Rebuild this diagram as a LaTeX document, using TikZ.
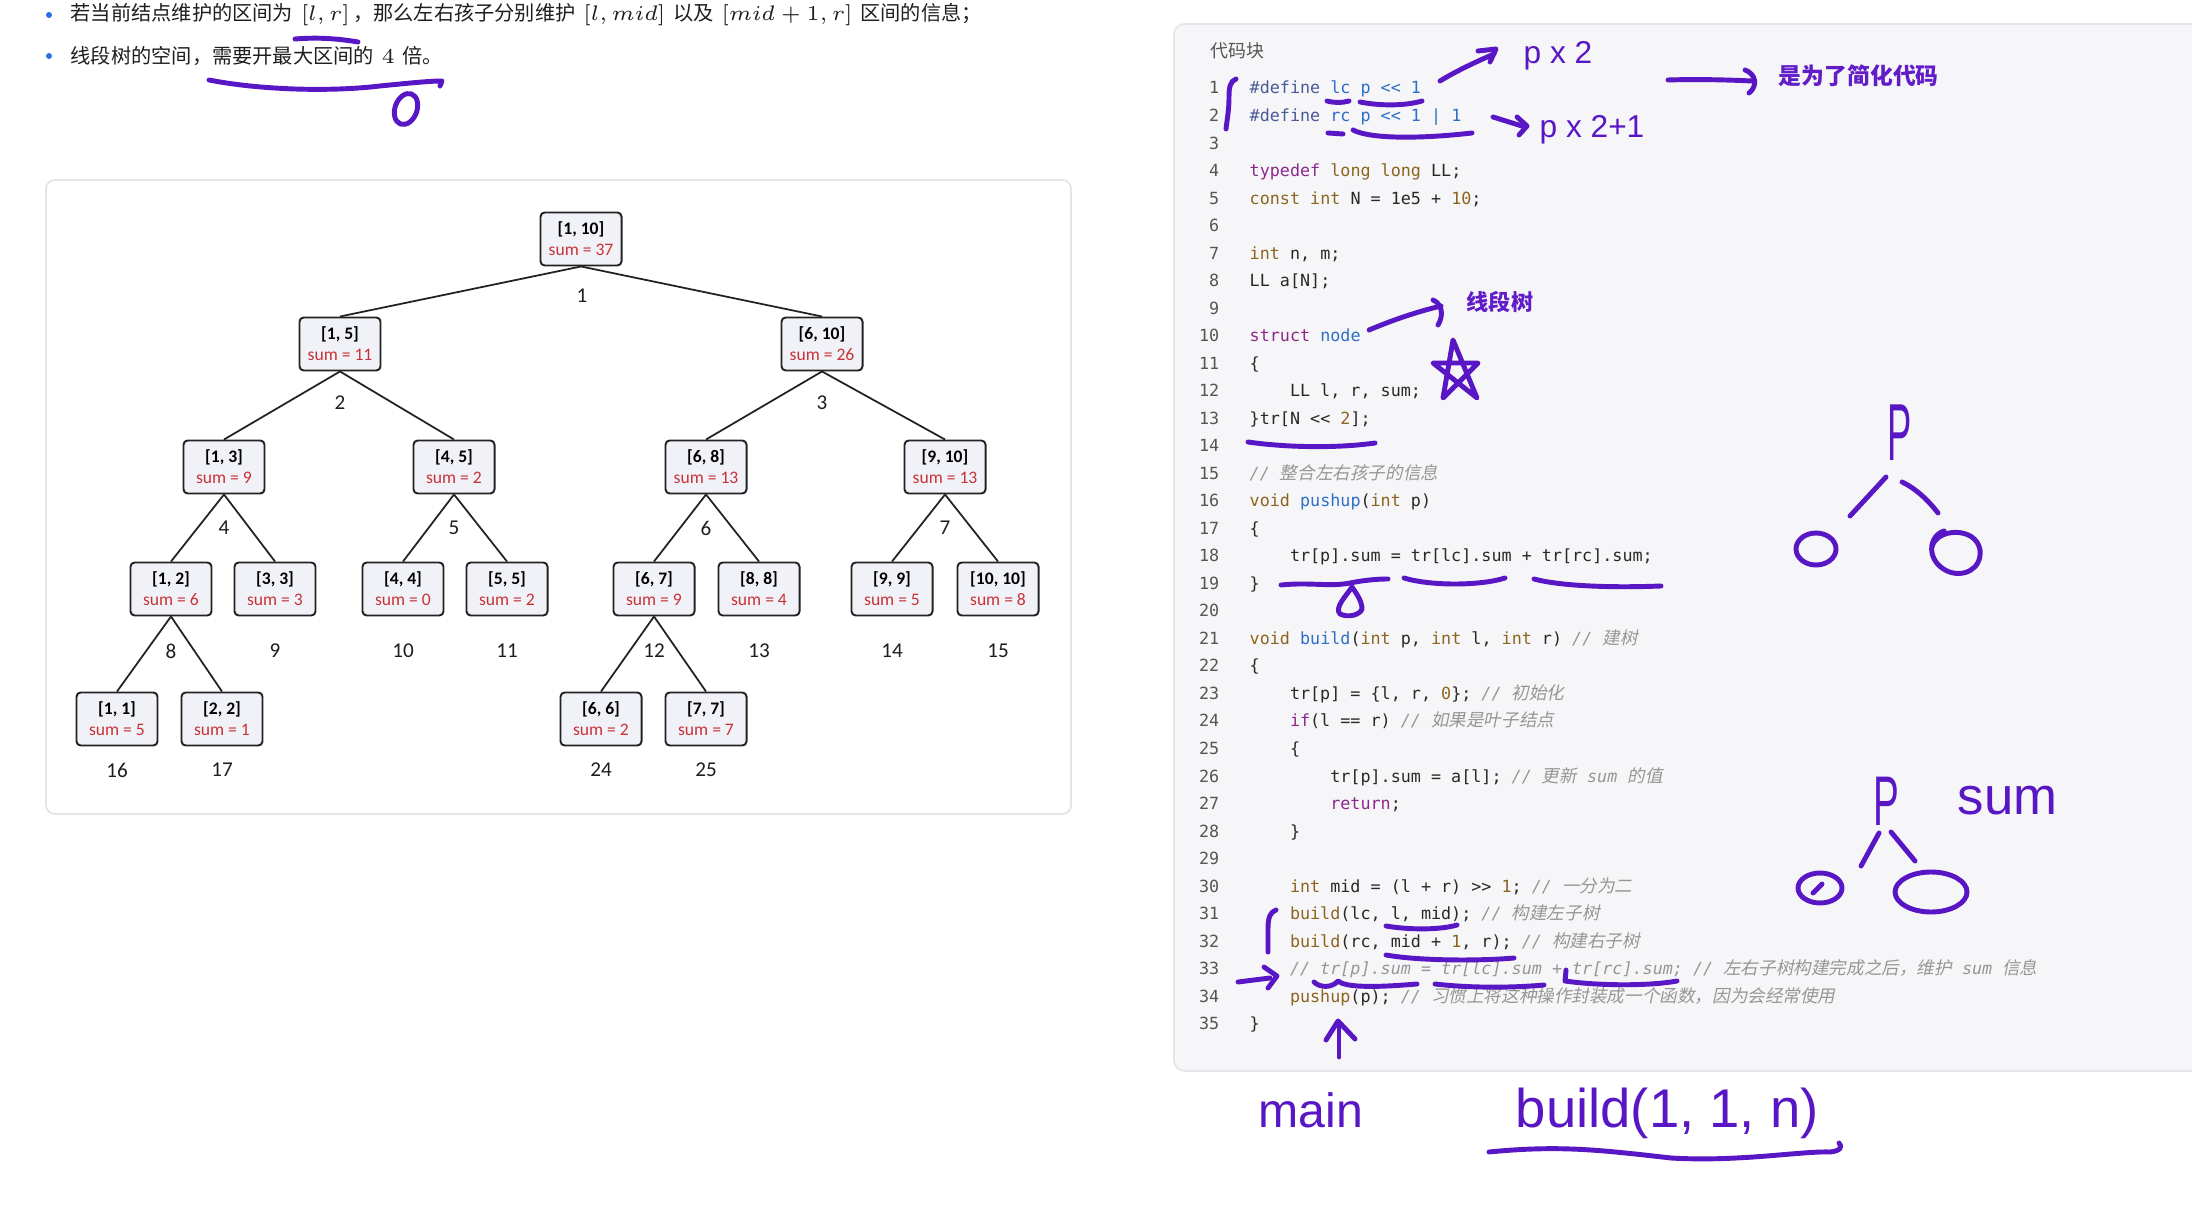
\documentclass[tikz,border=0pt]{standalone}
\usepackage{fontspec}
\usepackage{amsmath}
\setmonofont{DejaVu Sans Mono}
\newfontfamily\cjk{Noto Sans CJK SC}
\newfontfamily\cjkit[FakeSlant=0.2]{Noto Sans CJK SC}
\newfontfamily\treefont{Carlito}
\newfontfamily\handfont{Liberation Sans}
\definecolor{pen}{RGB}{88,22,196}
\definecolor{pentext}{RGB}{98,28,200}
\definecolor{cpur}{RGB}{140,40,140}
\definecolor{cbro}{RGB}{140,100,30}
\definecolor{cblu}{RGB}{45,110,200}
\definecolor{cdef}{RGB}{75,90,150}
\definecolor{ctxt}{RGB}{40,40,40}
\definecolor{ccom}{RGB}{150,150,150}
\definecolor{lnumc}{RGB}{85,85,85}
\definecolor{codebg}{RGB}{246,246,248}
\definecolor{codebd}{RGB}{230,230,232}
\definecolor{panelbd}{RGB}{228,228,228}
\definecolor{tfill}{RGB}{240,242,248}
\definecolor{tbd}{RGB}{34,34,34}
\definecolor{tred}{RGB}{200,50,55}
\definecolor{bulc}{RGB}{40,110,230}
\definecolor{toptxt}{RGB}{30,30,30}
\newcommand\tokP[1]{\textcolor{cpur}{#1}}
\newcommand\tokB[1]{\textcolor{cbro}{#1}}
\newcommand\tokL[1]{\textcolor{cblu}{#1}}
\newcommand\cmt[1]{{\color{ccom}\itshape #1}}
\newcommand\zh[1]{{\cjkit\fontsize{5}{6}\selectfont #1}}
\newcommand\codeln[3]{\node[codetxt] (c#1) at ({1249+10.07*#2},{94+27.52*(#1-1)}) {#3};}
\newcommand\tn[5]{\node[tnode] (#1) at (#2,#3) {{\bfseries #4}\\\textcolor{tred}{sum = #5}};}
\newcommand\ti[4]{\node[tidx] (#1) at (#2,#3) {#4};}
\tikzset{
  codetxt/.style={anchor=base west, inner sep=0pt, text=ctxt, font=\ttfamily\fontsize{4.76}{6}\selectfont\frenchspacing},
  lnum/.style={anchor=base east, inner sep=0pt, text=lnumc, font=\ttfamily\fontsize{4.76}{6}\selectfont},
  tnode/.style={draw=tbd, line width=0.55pt, fill=tfill, rounded corners=1.2pt, minimum width=0.81cm, minimum height=0.53cm, inner sep=0pt, align=center, font=\treefont\fontsize{5}{6}\selectfont},
  tidx/.style={inner sep=0pt, text=toptxt, font=\treefont\fontsize{6}{7}\selectfont},
  tedge/.style={draw=tbd, line width=0.5pt},
  toptext/.style={anchor=west, inner sep=0pt, text=toptxt, font=\cjk\fontsize{5.75}{7}\selectfont},
  bulletdot/.style={circle, fill=bulc, inner sep=0pt, minimum size=0.06cm},
  pen/.style={draw=pen, line width=1.4pt, line cap=round, line join=round},
  hand/.style={inner sep=0pt, text=pen, font=\handfont},
  pentag/.style={inner sep=0pt, text=pentext, font=\cjk\bfseries},
}
\begin{document}
\begin{tikzpicture}[x=0.01cm, y=-0.01cm]
\useasboundingbox (0,0) rectangle (2192,1210);
\clip (0,0) rectangle (2192,1210);
\fill[white] (0,0) rectangle (2192,1210);

% ---------- top bullet text ----------
\node[bulletdot] (b1) at (49,15) {};
\node[bulletdot] (b2) at (49,56) {};
\node[toptext] (t1) at (70,15) {若当前结点维护的区间为 \,$[l,r]$\,，那么左右孩子分别维护 \,$[l,mid]$\, 以及 \,$[mid+1,r]$\, 区间的信息；};
\node[toptext] (t2) at (70,56) {线段树的空间，需要开最大区间的 \,$4$\, 倍。};

% annotations top
\draw[pen] (295,39) .. controls (320,37) and (340,39) .. (358,42);
\draw[pen] (209,80) .. controls (260,90) and (330,92) .. (380,86) .. controls (410,83) and (430,81) .. (442,81) -- (440,86);
\draw[pen, rotate around={-20:(406,109)}] (406,109) ellipse [x radius=11, y radius=16];

% ---------- tree panel ----------
\draw[draw=panelbd, fill=white, line width=0.5pt, rounded corners=2.5pt] (46,180) rectangle (1071,814);

\tn{n1}{581}{239}{[1, 10]}{37}
\tn{n2}{340}{344}{[1, 5]}{11}
\tn{n3}{822}{344}{[6, 10]}{26}
\tn{n4}{224}{467}{[1, 3]}{9}
\tn{n5}{454}{467}{[4, 5]}{2}
\tn{n6}{706}{467}{[6, 8]}{13}
\tn{n7}{945}{467}{[9, 10]}{13}
\tn{n8}{171}{589}{[1, 2]}{6}
\tn{n9}{275}{589}{[3, 3]}{3}
\tn{n10}{403}{589}{[4, 4]}{0}
\tn{n11}{507}{589}{[5, 5]}{2}
\tn{n12}{654}{589}{[6, 7]}{9}
\tn{n13}{759}{589}{[8, 8]}{4}
\tn{n14}{892}{589}{[9, 9]}{5}
\tn{n15}{998}{589}{[10, 10]}{8}
\tn{n16}{117}{719}{[1, 1]}{5}
\tn{n17}{222}{719}{[2, 2]}{1}
\tn{n24}{601}{719}{[6, 6]}{2}
\tn{n25}{706}{719}{[7, 7]}{7}

\foreach \p/\c in {n1/n2,n1/n3,n2/n4,n2/n5,n3/n6,n3/n7,n4/n8,n4/n9,n5/n10,n5/n11,n6/n12,n6/n13,n7/n14,n7/n15,n8/n16,n8/n17,n12/n24,n12/n25}
  \draw[tedge] (\p.south) -- (\c.north);

\ti{i1}{582}{296}{1}
\ti{i2}{340}{403}{2}
\ti{i3}{822}{403}{3}
\ti{i4}{224}{528}{4}
\ti{i5}{454}{528}{5}
\ti{i6}{706}{528}{6}
\ti{i7}{945}{528}{7}
\ti{i8}{171}{651}{8}
\ti{i9}{275}{651}{9}
\ti{i10}{403}{651}{10}
\ti{i11}{507}{651}{11}
\ti{i12}{654}{651}{12}
\ti{i13}{759}{651}{13}
\ti{i14}{892}{651}{14}
\ti{i15}{998}{651}{15}
\ti{i16}{117}{770}{16}
\ti{i17}{222}{770}{17}
\ti{i24}{601}{770}{24}
\ti{i25}{706}{770}{25}

% ---------- code panel ----------
\draw[fill=codebg, draw=codebd, line width=0.5pt, rounded corners=3pt] (1174,24) rectangle (2260,1071);
\node[anchor=west, inner sep=0pt, text=lnumc, font=\cjk\fontsize{5.1}{6}\selectfont] (title) at (1210,51) {代码块};

\foreach \k in {1,...,35}
  \node[lnum] (ln\k) at (1220,{94+27.52*(\k-1)}) {\k};

\codeln{1}{0}{\textcolor{cdef}{\#define} \textcolor{cblu}{lc p << 1}}
\codeln{2}{0}{\textcolor{cdef}{\#define} \textcolor{cblu}{rc p << 1 | 1}}
\codeln{4}{0}{\tokP{typedef} \tokB{long long} LL;}
\codeln{5}{0}{\tokB{const int} N = 1e5 + \tokB{10};}
\codeln{7}{0}{\tokB{int} n, m;}
\codeln{8}{0}{LL a[N];}
\codeln{10}{0}{\tokP{struct} \tokL{node}}
\codeln{11}{0}{\{}
\codeln{12}{4}{LL l, r, sum;}
\codeln{13}{0}{\}tr[N << \tokB{2}];}
\codeln{15}{0}{\cmt{// \zh{整合左右孩子的信息}}}
\codeln{16}{0}{\tokB{void} \tokL{pushup}(\tokB{int} p)}
\codeln{17}{0}{\{}
\codeln{18}{4}{tr[p].sum = tr[lc].sum + tr[rc].sum;}
\codeln{19}{0}{\}}
\codeln{21}{0}{\tokB{void} \tokL{build}(\tokB{int} p, \tokB{int} l, \tokB{int} r) \cmt{// \zh{建树}}}
\codeln{22}{0}{\{}
\codeln{23}{4}{tr[p] = \{l, r, \tokB{0}\}; \cmt{// \zh{初始化}}}
\codeln{24}{4}{\tokP{if}(l == r) \cmt{// \zh{如果是叶子结点}}}
\codeln{25}{4}{\{}
\codeln{26}{8}{tr[p].sum = a[l]; \cmt{// \zh{更新} sum \zh{的值}}}
\codeln{27}{8}{\tokP{return};}
\codeln{28}{4}{\}}
\codeln{30}{4}{\tokB{int} mid = (l + r) >> \tokB{1}; \cmt{// \zh{一分为二}}}
\codeln{31}{4}{\tokB{build}(lc, l, mid); \cmt{// \zh{构建左子树}}}
\codeln{32}{4}{\tokB{build}(rc, mid + \tokB{1}, r); \cmt{// \zh{构建右子树}}}
\codeln{33}{4}{\cmt{// tr[p].sum = tr[lc].sum + tr[rc].sum; // \zh{左右子树构建完成之后，维护} sum \zh{信息}}}
\codeln{34}{4}{\tokB{pushup}(p); \cmt{// \zh{习惯上将这种操作封装成一个函数，因为会经常使用}}}
\codeln{35}{0}{\}}

% ---------- handwritten annotations on code ----------
% lines 1-2
\draw[pen] (1236,79) .. controls (1230,81) and (1229,88) .. (1229,97) .. controls (1229,110) and (1227,120) .. (1226,129);
\draw[pen] (1327,101) .. controls (1335,103) and (1342,103) .. (1349,101);
\draw[pen] (1360,102) .. controls (1380,106) and (1405,106) .. (1422,101);
\draw[pen] (1440,81) .. controls (1458,70) and (1478,61) .. (1494,54);
\draw[pen] (1478,51) -- (1496,49) -- (1490,62);
\node[hand, font=\handfont\fontsize{9}{10}\selectfont] (px2) at (1558,56) {p x 2};
\draw[pen] (1328,133) -- (1343,134);
\draw[pen] (1353,130) .. controls (1370,139) and (1420,139) .. (1472,133);
\draw[pen] (1493,117) -- (1525,127);
\draw[pen] (1517,117) -- (1527,126) -- (1519,135);
\node[hand, font=\handfont\fontsize{9}{10}\selectfont] (px21) at (1592,130) {p x 2+1};
\draw[pen] (1668,80) .. controls (1700,79) and (1730,80) .. (1752,81);
\draw[pen] (1745,70) .. controls (1756,74) and (1758,86) .. (1749,93);
\node[pentag, anchor=west, font=\cjk\bfseries\fontsize{6.5}{8}\selectfont] (simp) at (1778,76) {是为了简化代码};

% struct node
\draw[pen] (1369,330) .. controls (1395,319) and (1420,311) .. (1441,306);
\draw[pen] (1433,300) .. controls (1442,304) and (1444,315) .. (1438,325);
\node[pentag, font=\cjk\bfseries\fontsize{6.3}{8}\selectfont] (xds) at (1500,302) {线段树};
\draw[pen] (1453,340) -- (1443,398) -- (1478,363) -- (1433,363) -- (1477,398) -- cycle;
\draw[pen] (1248,442) .. controls (1290,448) and (1340,448) .. (1375,443);

% sketch 1
\node[hand, font=\handfont\fontsize{23}{24}\selectfont] (P1) at (1900,433) {\scalebox{0.45}[1]{P}};
\draw[pen] (1886,477) -- (1850,516);
\draw[pen] (1902,482) .. controls (1915,488) and (1928,500) .. (1938,513);
\draw[pen] (1816,549) ellipse [x radius=20, y radius=16];
\draw[pen] (1932,547) .. controls (1936,528) and (1976,526) .. (1980,550) .. controls (1982,570) and (1962,578) .. (1947,571) .. controls (1926,561) and (1928,536) .. (1944,531);

% pushup underlines
\draw[pen] (1281,585) .. controls (1310,582) and (1330,587) .. (1350,583) .. controls (1365,580) and (1378,579) .. (1388,579);
\draw[pen] (1352,587) .. controls (1346,596) and (1334,608) .. (1340,614) .. controls (1348,618) and (1360,615) .. (1362,609) .. controls (1362,601) and (1356,593) .. (1352,587);
\draw[pen] (1404,578) .. controls (1430,586) and (1480,586) .. (1505,578);
\draw[pen] (1534,579) .. controls (1560,586) and (1610,588) .. (1661,586);

% sketch 2
\node[hand, font=\handfont\fontsize{20}{21}\selectfont] (P2) at (1886,801) {\scalebox{0.55}[1]{P}};
\node[hand, anchor=base west, font=\handfont\fontsize{15}{16}\selectfont] (sum) at (1957,814) {sum};
\draw[pen] (1879,833) -- (1861,866);
\draw[pen] (1891,832) -- (1915,861);
\draw[pen] (1820,888) ellipse [x radius=22, y radius=15];
\draw[pen] (1813,893) -- (1822,884);
\draw[pen] (1931,892) ellipse [x radius=36, y radius=20];

% build calls
\draw[pen] (1386,926) .. controls (1410,930) and (1440,930) .. (1457,925);
\draw[pen] (1386,955) .. controls (1420,961) and (1480,961) .. (1514,958);
\draw[pen] (1276,910) .. controls (1270,912) and (1268,918) .. (1268,928) -- (1268,952);
\draw[pen] (1238,982) -- (1270,978);
\draw[pen] (1264,967) -- (1277,976) -- (1268,988);
\draw[pen] (1314,982) .. controls (1320,988) and (1332,988) .. (1338,981) .. controls (1345,987) and (1370,988) .. (1417,984);
\draw[pen] (1435,984) .. controls (1470,988) and (1510,988) .. (1544,985);
\draw[pen] (1566,970) -- (1565,981) .. controls (1600,986) and (1650,986) .. (1677,981);
\draw[pen] (1339,1057) -- (1339,1024);
\draw[pen] (1326,1040) -- (1338,1021) -- (1355,1039);

% main / build(1,1,n)
\node[hand, anchor=base west, font=\handfont\fontsize{13.7}{15}\selectfont] (mainw) at (1258,1127) {main};
\node[hand, anchor=base west, font=\handfont\fontsize{15.5}{17}\selectfont] (buildw) at (1515,1127) {build(1, 1, n)};
\draw[pen] (1489,1152) .. controls (1560,1145) and (1600,1150) .. (1671,1158) .. controls (1740,1162) and (1800,1151) .. (1830,1152) .. controls (1840,1151) and (1843,1147) .. (1839,1143);
\end{tikzpicture}
\end{document}
